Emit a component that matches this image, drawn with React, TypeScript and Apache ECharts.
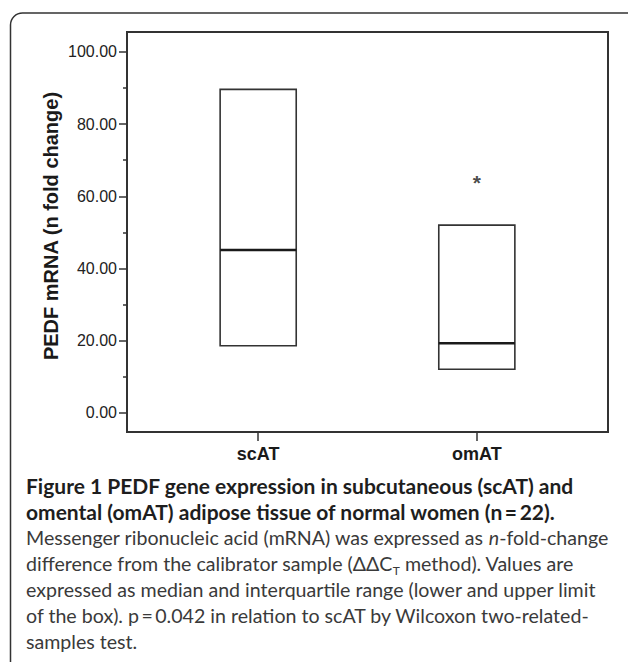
import React, { useEffect, useRef } from "react";
import * as echarts from "echarts";

const categories = ["scAT", "omAT"];
const categoryPositions = [0, 1];
const q1Values = [18.6, 12.1];
const medianValues = [45.1, 19.3];
const q3Values = [89.6, 52.0];
const asteriskValues: (number | null)[] = [null, 65];
const yTickValues = [0, 20, 40, 60, 80, 100];
const yMinorTickValues = [10, 30, 50, 70, 90];
const yAxisName = "PEDF mRNA (n fold change)";

const captionBoldLines = [
  "Figure 1 PEDF gene expression in subcutaneous (scAT) and",
  "omental (omAT) adipose tissue of normal women (n\u2009=\u200922).",
];
const captionRegularLines = [
  "Messenger ribonucleic acid (mRNA) was expressed as {it|n}-fold-change",
  "difference from the calibrator sample (\u0394\u0394C{sub|T} method). Values are",
  "expressed as median and interquartile range (lower and upper limit",
  "of the box). p\u2009=\u20090.042 in relation to scAT by Wilcoxon two-related-",
  "samples test.",
];

const AXIS_FONT = "'Liberation Sans', Arial, sans-serif";
const CAPTION_FONT = "Lato, 'Open Sans', sans-serif";

export default function App() {
  const ref = useRef<HTMLDivElement>(null);

  useEffect(() => {
    document.body.style.margin = "0";
    if (!ref.current) return;
    const chart = echarts.init(ref.current, undefined, { renderer: "svg" });

    const boxData = categoryPositions.map((x, i) => [x, q1Values[i], medianValues[i], q3Values[i]]);
    const starData = categoryPositions
      .map((x, i) => (asteriskValues[i] == null ? null : [x, asteriskValues[i]]))
      .filter((d) => d !== null);

    const captionX = 26;
    const firstBaseline = 493;
    const lineStep = 25.9;
    const captionGraphics: any[] = [];
    captionBoldLines.forEach((t, i) => {
      captionGraphics.push({
        type: "text",
        x: captionX,
        y: firstBaseline + i * lineStep - 7.5,
        style: {
          text: t,
          fontFamily: CAPTION_FONT,
          fontSize: 21,
          fontWeight: "bold",
          fill: "#1e1e1e",
          verticalAlign: "middle",
        },
      });
    });
    captionRegularLines.forEach((t, j) => {
      const i = j + captionBoldLines.length;
      captionGraphics.push({
        type: "text",
        x: captionX,
        y: firstBaseline + i * lineStep - 7,
        style: {
          text: t,
          fontFamily: CAPTION_FONT,
          fontSize: 19.6,
          fill: "#3a3a3a",
          verticalAlign: "middle",
          lineHeight: 26,
          rich: {
            it: { fontStyle: "italic", fontFamily: CAPTION_FONT, fontSize: 19.6, fill: "#3a3a3a", lineHeight: 26 },
            sub: {
              fontFamily: CAPTION_FONT,
              fontSize: 12,
              fill: "#3a3a3a",
              verticalAlign: "bottom",
              lineHeight: 26,
            },
          },
        },
      });
    });

    chart.setOption({
      animation: false,
      backgroundColor: "#fff",
      grid: {
        left: 127,
        right: 20,
        top: 32,
        bottom: 230,
        show: true,
        borderColor: "#333",
        borderWidth: 2,
        backgroundColor: "transparent",
      },
      xAxis: {
        type: "value",
        min: -0.6,
        max: 1.6,
        splitLine: { show: false },
        axisLine: { show: true, onZero: false, lineStyle: { color: "#333", width: 2 } },
        axisTick: { show: true, customValues: categoryPositions, length: 9, lineStyle: { color: "#333", width: 1.5 } },
        axisLabel: {
          show: true,
          customValues: categoryPositions,
          formatter: (v: number) => categories[Math.round(v)] ?? "",
          margin: 13,
          fontFamily: AXIS_FONT,
          fontSize: 18,
          fontWeight: "bold",
          color: "#1a1a1a",
        },
      },
      yAxis: [
        {
          type: "value",
          min: -5.3,
          max: 105.5,
          position: "left",
          splitLine: { show: false },
          axisLine: { show: true, onZero: false, lineStyle: { color: "#333", width: 2 } },
          axisTick: { show: true, customValues: yTickValues, length: 8, lineStyle: { color: "#333", width: 1.5 } },
          axisLabel: {
            show: true,
            customValues: yTickValues,
            formatter: (v: number) => v.toFixed(2),
            margin: 10,
            fontFamily: AXIS_FONT,
            fontSize: 16,
            color: "#222",
          },
        },
        {
          type: "value",
          min: -5.3,
          max: 105.5,
          position: "left",
          offset: 0,
          splitLine: { show: false },
          axisLine: { show: false, onZero: false },
          axisTick: { show: true, customValues: yMinorTickValues, length: 4, lineStyle: { color: "#333", width: 1.5 } },
          axisLabel: { show: false },
        },
      ],
      series: [
        {
          type: "custom",
          data: boxData,
          renderItem: (params: any, api: any) => {
            const x = api.value(0);
            const lo = api.coord([x, api.value(1)]);
            const med = api.coord([x, api.value(2)]);
            const hi = api.coord([x, api.value(3)]);
            const w = api.size([0.348, 0])[0];
            return {
              type: "group",
              children: [
                {
                  type: "rect",
                  shape: { x: lo[0] - w / 2, y: hi[1], width: w, height: lo[1] - hi[1] },
                  style: { fill: "#fff", stroke: "#333", lineWidth: 1.6 },
                },
                {
                  type: "line",
                  shape: { x1: med[0] - w / 2, y1: med[1], x2: med[0] + w / 2, y2: med[1] },
                  style: { stroke: "#1a1a1a", lineWidth: 2.6 },
                },
              ],
            };
          },
          z: 3,
        },
        {
          type: "scatter",
          data: starData,
          symbolSize: 1,
          itemStyle: { color: "transparent" },
          label: {
            show: true,
            position: "inside",
            formatter: "*",
            fontFamily: AXIS_FONT,
            fontSize: 21,
            fontWeight: "bold",
            color: "#1a1a1a",
            offset: [0, 4],
          },
          z: 4,
        },
      ],
      graphic: [
        {
          type: "rect",
          shape: { x: 10.5, y: 13, width: 640, height: 720, r: 12 },
          style: { fill: "none", stroke: "#333", lineWidth: 1.5 },
          z: 0,
        },
        {
          type: "text",
          x: 51,
          y: 226,
          rotation: Math.PI / 2,
          style: {
            text: yAxisName,
            fontFamily: AXIS_FONT,
            fontSize: 20,
            fontWeight: "bold",
            fill: "#1a1a1a",
            align: "center",
            verticalAlign: "middle",
          },
        },
        ...captionGraphics,
      ],
    });

    return () => chart.dispose();
  }, []);

  return <div ref={ref} style={{ width: 628, height: 662 }} />;
}
